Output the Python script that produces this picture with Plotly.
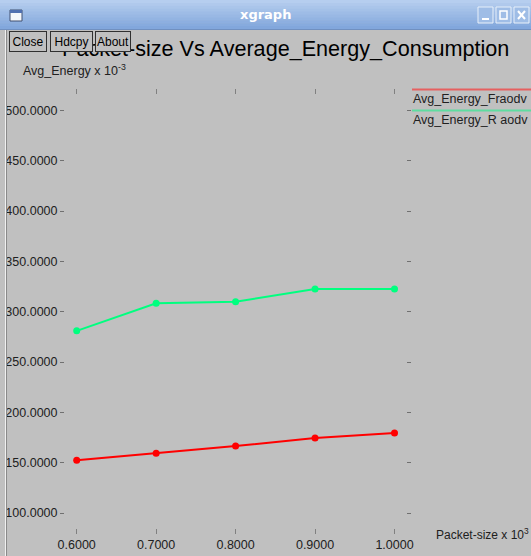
import plotly.graph_objects as go

# ---- data ----
packet_size = [0.6, 0.7, 0.8, 0.9, 1.0]
energy_fraodv = [152.5, 159.5, 166.5, 174.5, 179.5]
energy_raodv = [281.0, 308.5, 310.0, 322.5, 322.5]
series_names = ["Avg_Energy_Fraodv", "Avg_Energy_R aodv"]
y_ticks = [100, 150, 200, 250, 300, 350, 400, 450, 500]
x_ticks = [0.6, 0.7, 0.8, 0.9, 1.0]
chart_title = "Packet-size Vs Average_Energy_Consumption"

W, H = 531, 556
L, R, T, B = 65, 406, 95, 528  # plot area in pixels
PW, PH = R - L, B - T


def px(x):
    return (x - L) / PW


def py(y):
    return (B - y) / PH


BG = "#c0c0c0"
FONT = "Liberation Sans"

fig = go.Figure()
fig.add_trace(go.Scatter(x=packet_size, y=energy_fraodv, mode="lines+markers",
                         name=series_names[0],
                         line=dict(color="#ff0000", width=2),
                         marker=dict(color="#ff0000", size=7)))
fig.add_trace(go.Scatter(x=packet_size, y=energy_raodv, mode="lines+markers",
                         name=series_names[1],
                         line=dict(color="#00ff7f", width=2),
                         marker=dict(color="#00ff7f", size=7)))

shapes = []
annotations = []

# title bar gradient stripes
top_c = (0xb6, 0xce, 0xef)
bot_c = (0x82, 0xa7, 0xdc)
n = 10
for i in range(n):
    t = i / (n - 1)
    c = tuple(int(top_c[k] + (bot_c[k] - top_c[k]) * t) for k in range(3))
    y0 = 29 * i / n
    y1 = 29 * (i + 1) / n + 0.5
    shapes.append(dict(type="rect", xref="paper", yref="paper",
                       x0=px(0), x1=px(W), y0=py(y1), y1=py(y0),
                       fillcolor="rgb(%d,%d,%d)" % c, line=dict(width=0), layer="above"))
shapes.append(dict(type="line", xref="paper", yref="paper", x0=px(0), x1=px(W),
                   y0=py(29.5), y1=py(29.5), line=dict(color="#7090c0", width=1)))
# window icon
shapes.append(dict(type="rect", xref="paper", yref="paper", x0=px(10), x1=px(22),
                   y0=py(21), y1=py(10), fillcolor="#f4f6fa", line=dict(color="#405070", width=1)))
shapes.append(dict(type="rect", xref="paper", yref="paper", x0=px(10), x1=px(22),
                   y0=py(13), y1=py(10), fillcolor="#5070b0", line=dict(width=0)))
# window control buttons
for bx in (478, 496, 514):
    shapes.append(dict(type="rect", xref="paper", yref="paper", x0=px(bx), x1=px(bx + 15),
                       y0=py(23), y1=py(7), fillcolor="#9fbde6",
                       line=dict(color="#e8f0fa", width=1)))
shapes.append(dict(type="line", xref="paper", yref="paper", x0=px(482), x1=px(489),
                   y0=py(19), y1=py(19), line=dict(color="white", width=2)))
shapes.append(dict(type="rect", xref="paper", yref="paper", x0=px(500), x1=px(507),
                   y0=py(19), y1=py(11), line=dict(color="white", width=1.5)))
shapes.append(dict(type="line", xref="paper", yref="paper", x0=px(518), x1=px(525),
                   y0=py(19), y1=py(11), line=dict(color="white", width=2)))
shapes.append(dict(type="line", xref="paper", yref="paper", x0=px(518), x1=px(525),
                   y0=py(11), y1=py(19), line=dict(color="white", width=2)))
# left window frame
shapes.append(dict(type="line", xref="paper", yref="paper", x0=px(5.5), x1=px(5.5),
                   y0=py(556), y1=py(30), line=dict(color="#f0f0f0", width=1)))
shapes.append(dict(type="line", xref="paper", yref="paper", x0=px(6.5), x1=px(6.5),
                   y0=py(556), y1=py(30), line=dict(color="#8a8a8a", width=1)))

annotations.append(dict(text="<b>xgraph</b>", xref="paper", yref="paper", x=px(265), y=py(15),
                        showarrow=False, font=dict(family="DejaVu Sans", size=13, color="white"),
                        xanchor="center", yanchor="middle"))

# chart title
annotations.append(dict(text=chart_title, xref="paper", yref="paper", x=px(285), y=py(49),
                        showarrow=False, font=dict(family=FONT, size=21.6, color="black"),
                        xanchor="center", yanchor="middle"))

# buttons (drawn over the title)
for label, x0, x1 in (("Close", 9, 47), ("Hdcpy", 50, 93), ("About", 95, 131)):
    annotations.append(dict(text=label, xref="paper", yref="paper", x=px((x0 + x1) / 2), y=py(41.5),
                            showarrow=False, font=dict(family=FONT, size=12, color="black"),
                            xanchor="center", yanchor="middle", width=x1 - x0 - 2, height=19,
                            bgcolor=BG, bordercolor="#303030", borderwidth=1, borderpad=0))

# axis labels
annotations.append(dict(text="Avg_Energy x 10<sup>-3</sup>", xref="paper", yref="paper",
                        x=px(21), y=py(70), showarrow=False,
                        font=dict(family=FONT, size=12.5, color="#202020"),
                        xanchor="left", yanchor="middle"))
annotations.append(dict(text="Packet-size x 10<sup>3</sup>", xref="paper", yref="paper",
                        x=px(434), y=py(534), showarrow=False,
                        font=dict(family=FONT, size=12, color="#202020"),
                        xanchor="left", yanchor="middle"))

# legend
legend_colors = ["#e66060", "#5fdca0"]
legend_line_y = [89.5, 110.5]
legend_text_y = [99, 120]
for i in range(2):
    shapes.append(dict(type="line", xref="paper", yref="paper", x0=px(412), x1=px(W),
                       y0=py(legend_line_y[i]), y1=py(legend_line_y[i]),
                       line=dict(color=legend_colors[i], width=2)))
    annotations.append(dict(text=series_names[i], xref="paper", yref="paper",
                            x=px(411), y=py(legend_text_y[i]), showarrow=False,
                            font=dict(family=FONT, size=12.5, color="#202020"),
                            xanchor="left", yanchor="middle"))

# axis ranges: 0.6 -> 76.7px, 1.0 -> 394.5px ; 500 -> 110.5px, 100 -> 513px
xs = (394.5 - 76.7) / 0.4
x_lo = 0.6 - (76.7 - L) / xs
x_hi = 1.0 + (R - 394.5) / xs
ys = (513 - 110.5) / 400
y_hi = 500 + (110.5 - T) / ys
y_lo = 100 - (B - 513) / ys

fig.update_layout(
    width=W, height=H,
    margin=dict(l=L, r=W - R, t=T, b=H - B, autoexpand=False),
    paper_bgcolor=BG, plot_bgcolor=BG,
    showlegend=False,
    shapes=shapes, annotations=annotations,
    font=dict(family=FONT, color="#202020"),
)
fig.update_xaxes(range=[x_lo, x_hi], tickvals=x_ticks, ticktext=["%.4f" % v for v in x_ticks],
                 showgrid=False, zeroline=False, showline=False,
                 ticks="outside", ticklen=5, tickwidth=1, tickcolor="#808080", mirror="ticks",
                 tickfont=dict(family=FONT, size=12.5, color="#202020"))
fig.update_yaxes(range=[y_lo, y_hi], tickvals=y_ticks, ticktext=["%.4f" % v for v in y_ticks],
                 showgrid=False, zeroline=False, showline=False,
                 ticks="outside", ticklen=4, tickwidth=1, tickcolor="#707070", mirror="ticks",
                 tickfont=dict(family=FONT, size=12.5, color="#202020"), ticklabelstandoff=0)

fig.write_html("out.html", config={"displayModeBar": False},
               post_script="document.body.style.margin='0';document.body.style.overflow='hidden';")
